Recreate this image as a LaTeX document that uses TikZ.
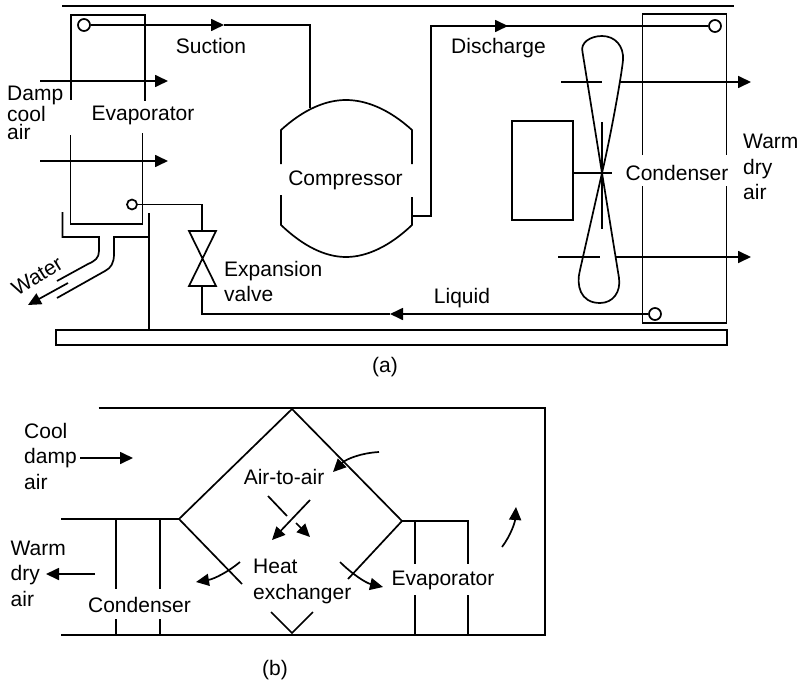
\documentclass[tikz,border=0pt]{standalone}
\usepackage{fontspec}
\setmainfont{Liberation Sans}
\usetikzlibrary{arrows.meta}

\tikzset{
  pipe/.style={line width=1.7pt},
  flow/.style={line width=1.7pt, -{Triangle[length=13pt,width=12pt]}},
  port/.style={circle, draw, line width=1.7pt, fill=white, inner sep=0pt, minimum size=#1},
  label/.style={inner sep=0pt, align=left, font=\fontsize{21}{25.5}\selectfont},
}

\begin{document}
\begin{tikzpicture}[x=1pt, y=-1pt]
  \useasboundingbox (0,0) rectangle (802,682);

  % (a) casing
  \draw[pipe] (62,6) -- (734,6);
  \draw[pipe] (56,330) rectangle (727,345);

  % evaporator coil
  \draw[pipe] (71,100) -- (71,15) -- (145,15) -- (145,101);
  \draw[pipe] (70.5,135) -- (70.5,224) -- (142.5,224) -- (142.5,133);
  \node[port=12pt] (evapout) at (84,25) {};
  \node[port=10pt] (evapin) at (132,204.5) {};
  \node[label] (evaplabel) at (143,115) {Evaporator};
  \coordinate (airinA) at (40,81);
  \coordinate (airoutA) at (168,81);
  \coordinate (airinB) at (40,161);
  \coordinate (airoutB) at (168,161);
  \draw[flow] (airinA) -- (airoutA);
  \draw[flow] (airinB) -- (airoutB);
  \node[label, anchor=west, font=\fontsize{21}{18.5}\selectfont] (damp) at (7,113) {Damp\\cool\\air};

  % drain tray
  \draw[pipe] (62.5,212) -- (62.5,237) -- (99,237) -- (99,251) .. controls (99,258) and (95,261) .. (88,264) -- (57,281);
  \draw[pipe] (149,213) -- (149,330);
  \draw[pipe] (149,237) -- (114,237) -- (114,254) .. controls (114,263) and (111,268) .. (105,271) -- (57,298);
  \draw[flow] (68,283) -- (28,305);
  \node[label, rotate=32] (water) at (37,276) {Water};

  % compressor
  \node[label] (comp) at (345.5,180) {Compressor};
  \draw[pipe] (281,164) -- (281,130) .. controls (303,110) and (325,100) .. (346,100)
      .. controls (367,100) and (390,110) .. (412,130) -- (412,164);
  \draw[pipe] (281,195) -- (281,225) .. controls (303,246) and (325,257) .. (346,257)
      .. controls (367,257) and (390,246) .. (412,225) -- (412,197);

  % suction line
  \coordinate (suctionA) at (224,25);
  \draw[flow] (evapout) -- (suctionA);
  \draw[pipe] (suctionA) -- (310,25) -- (310,108);
  \node[label] (suction) at (211,46) {Suction};

  % discharge line
  \node[port=12pt] (condin) at (715,26) {};
  \coordinate (dischargeA) at (508,26);
  \draw[pipe] (412,216) -- (431,216) -- (431,26) -- (dischargeA);
  \draw[pipe] (dischargeA) -- (condin);
  \draw[flow] (431,26) -- (dischargeA);
  \node[label] (discharge) at (498.5,48) {Discharge};

  % condenser
  \draw[pipe] (642.5,155) -- (642.5,14) -- (726.5,14) -- (726.5,155);
  \draw[pipe] (642.5,186) -- (642.5,323) -- (726.5,323) -- (726.5,186);
  \node[label] (condlabel) at (677,172.5) {Condenser};
  \node[port=12pt] (condout) at (655,314) {};

  % fan and motor
  \node[draw, pipe, inner sep=0pt, minimum width=61pt, minimum height=99pt] (motor) at (542.5,170.5) {};
  \coordinate (hub) at (602,173);
  \draw[pipe] (motor.east |- hub) -- (612,173);
  \draw[pipe] (602,122) -- (602,229);
  \draw[pipe] (hub) -- (582.5,52) .. controls (580,43) and (590,36) .. (602,36)
      .. controls (615,36) and (624,46) .. (623,60) .. controls (622,72) and (612,130) .. (hub);
  \draw[pipe] (hub) -- (580,270) .. controls (576,285) and (580,303) .. (600,303)
      .. controls (613,303) and (621,292) .. (619,278) -- (hub);
  \draw[pipe] (561,82) -- (602,82);
  \draw[flow] (620,82) -- (751,82);
  \draw[pipe] (558,257) -- (600,257);
  \draw[flow] (615,257) -- (751,257);
  \node[label, anchor=west] (warmA) at (743,167) {Warm\\dry\\air};

  % liquid line and valve
  \coordinate (liquidA) at (390,314);
  \coordinate (valvetop) at (202,231);
  \coordinate (valvebot) at (202,286);
  \draw[flow] (condout) -- (liquidA);
  \draw[pipe] (liquidA) -- (202,314) -- (valvebot);
  \draw[pipe] (evapin) -- (202,204.5) -- (valvetop);
  \draw[pipe] (189,231) -- (216,231) -- (189,286) -- (216,286) -- cycle;
  \node[label] (liquid) at (462,298) {Liquid};
  \node[label, anchor=west] (valve) at (224,281.5) {Expansion\\valve};
  \node[label] (capA) at (385,367) {(a)};

  % (b) casing
  \draw[pipe] (98.5,408) -- (545,408) -- (545,635) -- (61,635);
  \draw[pipe] (61,519) -- (179,519);

  % heat exchanger
  \draw[pipe] (179,519) -- (292,409) -- (402,521);
  \draw[pipe] (179,519) -- (242,584);
  \draw[pipe] (402,521) -- (348,579);
  \draw[pipe] (271,612) -- (292,633) -- (313,612);
  \node[label] (hxtop) at (284,477) {Air-to-air};
  \node[label, anchor=west] (hxbot) at (253,581.5) {Heat\\exchanger};

  % condenser and evaporator coils
  \foreach \xa in {116,160} {
    \draw[pipe] (\xa,519) -- (\xa,589);
    \draw[pipe] (\xa,619) -- (\xa,635);
  }
  \draw[pipe] (402,521) -- (468,521) -- (468,564);
  \draw[pipe] (415,521) -- (415,564);
  \foreach \xa in {415,468}
    \draw[pipe] (\xa,595) -- (\xa,635);
  \node[label] (condB) at (139.5,605) {Condenser};
  \node[label] (evapB) at (443,580) {Evaporator};

  % air streams
  \draw[flow] (80,458) -- (133,458);
  \draw[flow] (95,574) -- (46,574);
  \draw[flow] (379,452) .. controls (361,453) and (346,459) .. (333,472);
  \draw[flow] (310,500) -- (272,540);
  \draw[pipe] (268,496) -- (287,516);
  \draw[flow] (296,523) -- (310,537);
  \draw[flow] (240,562) .. controls (228,572) and (214,579) .. (196,582);
  \draw[flow] (340,562) .. controls (352,574) and (366,583) .. (383,587);
  \draw[flow] (502,547) .. controls (511,535) and (515,522) .. (516,507);
  \node[label, anchor=west] (cool) at (24,456) {Cool\\damp\\air};
  \node[label, anchor=west] (warmB) at (10.5,573.5) {Warm\\dry\\air};
  \node[label] (capB) at (275,670) {(b)};
\end{tikzpicture}
\end{document}
